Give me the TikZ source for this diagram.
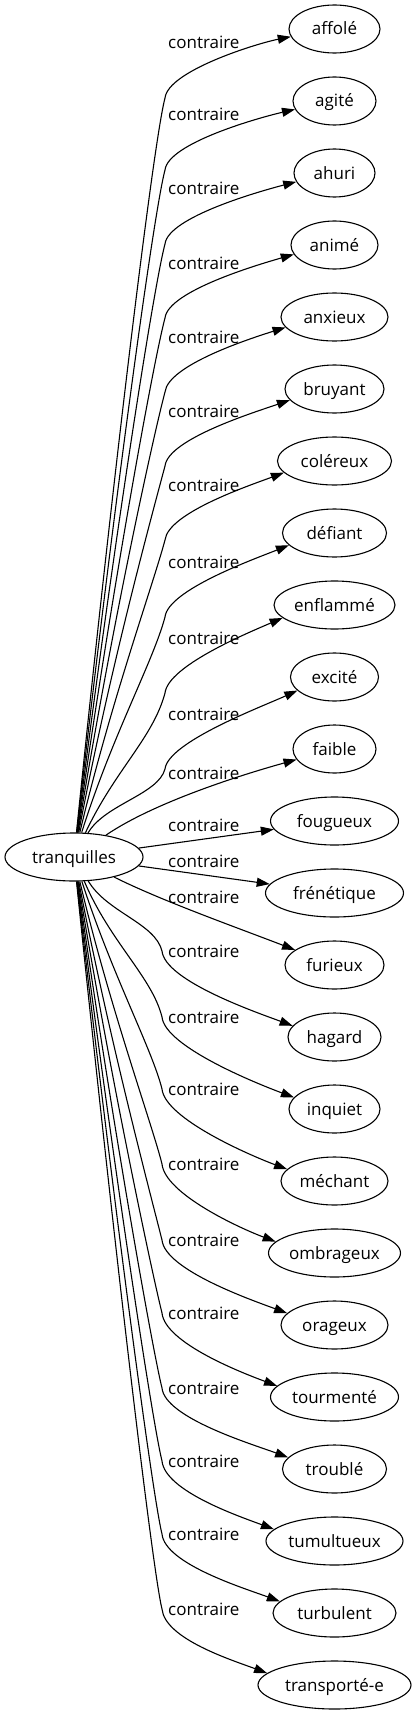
\documentclass[tikz,border=0pt]{standalone}
\usepackage{fontspec}
\setmainfont{Open Sans}
\usetikzlibrary{arrows.meta, shapes.geometric}

\begin{document}
\begin{tikzpicture}[
    x=1pt, y=-1pt,
    word/.style={draw, ellipse, line width=1.1pt, inner sep=0pt, minimum height=48pt,
        text height=15pt, text depth=3pt, font=\fontsize{17}{20}\selectfont},
    lab/.style={anchor=west, inner sep=0pt, text height=15pt, text depth=3pt,
        font=\fontsize{17}{20}\selectfont},
    rel/.style={line width=1.1pt, -{Triangle[length=13pt, width=9pt]}}
]

\useasboundingbox (0,0) rectangle (417,1715);

% Source word
\node[word, minimum width=138pt] (t) at (74,857) {tranquilles};

% Opposite words and their labels
\foreach \i/\txt/\w/\ly in {0/affolé/91/43, 1/agité/83/115, 2/ahuri/81/189,
    3/animé/87/263, 4/anxieux/107/337, 5/bruyant/99/411, 6/coléreux/114/485,
    7/défiant/104/562, 8/enflammé/121/638, 9/excité/88/714, 10/faible/83/773,
    11/fougueux/128/825, 12/frénétique/138/861, 13/furieux/99/897,
    14/hagard/93/951, 15/inquiet/91/1017, 16/méchant/107/1089,
    17/ombrageux/132/1164, 18/orageux/107/1240, 19/tourmenté/128/1313,
    20/troublé/104/1388, 21/tumultueux/137/1461, 22/turbulent/123/1534,
    23/transporté-e/153/1609} {
    \node[word, minimum width=\w pt] (n\i) at (334.5,{29+72*\i}) {\txt};
    \node[lab] (l\i) at (168,\ly) {contraire};
}

% Upper edges
\foreach \i/\w/\ly/\sx in {0/91/43/78, 1/83/115/78, 2/81/189/78, 3/87/263/78,
    4/107/337/78, 5/99/411/78, 6/114/485/79, 7/104/562/80, 8/121/638/87,
    9/88/714/92} {
    \pgfmathsetmacro{\vy}{\ly+55}
    \pgfmathsetmacro{\dd}{833-\vy}
    \pgfmathsetmacro{\qa}{min(45,0.4*\dd)}
    \pgfmathsetmacro{\ax}{\sx+min(32,0.2*\dd)}
    \pgfmathsetmacro{\ay}{833-0.45*\dd}
    \pgfmathsetmacro{\dy}{8+0.6*\i}
    \pgfmathtruncatemacro{\ang}{180+atan(\dy/(\w/2*sqrt(1-(\dy/24)^2)))}
    \draw[rel] (t) .. controls (\ax,\ay) and ({165-12*\qa/45},{\vy+\qa}) .. (165,\vy)
        .. controls (168,{\ly+28}) and +(-35,{7+\i}) .. (n\i.\ang);
}

% Middle edges
\draw[rel] (t) .. controls (150,805) and (230,778) .. (n10);
\draw[rel] (t) -- (n11);
\draw[rel] (t) -- (n12);
\draw[rel] (t) .. controls (160,900) and (230,925) .. (n13);

% Lower edges
\foreach \i/\w/\ly/\sx in {14/93/951/93, 15/91/1017/83, 16/107/1089/80,
    17/132/1164/78, 18/107/1240/78, 19/128/1313/78, 20/104/1388/78,
    21/137/1461/78, 22/123/1534/78, 23/153/1609/78} {
    \pgfmathsetmacro{\dd}{\ly-881}
    \pgfmathsetmacro{\qa}{min(40,0.4*\dd)}
    \pgfmathsetmacro{\ax}{\sx+min(32,0.2*\dd)}
    \pgfmathsetmacro{\ay}{881+0.45*\dd}
    \pgfmathtruncatemacro{\ang}{180-atan(11/(\w/2*sqrt(1-(11/24)^2)))}
    \draw[rel] (t) .. controls (\ax,\ay) and ({162-10*\qa/40},{\ly-\qa}) .. (162,\ly)
        .. controls (165,{\ly+30}) and +(-35,-13) .. (n\i.\ang);
}

\end{tikzpicture}
\end{document}
